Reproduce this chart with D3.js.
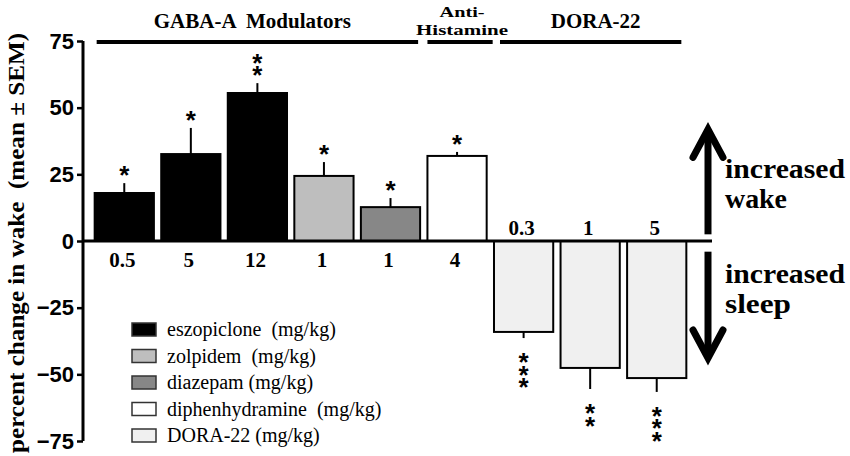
<!DOCTYPE html>
<html>
<head>
<meta charset="utf-8">
<script src="https://cdn.jsdelivr.net/npm/d3@7"></script>
<style>
  body { margin: 0; background: #fff; }
  svg { display: block; }
</style>
</head>
<body>
<div id="chart"></div>
<script>
"use strict";

// values
var doses = ["0.5", "5", "12", "1", "1", "4", "0.3", "1", "5"];
var drugs = ["eszopiclone", "eszopiclone", "eszopiclone", "zolpidem", "diazepam",
             "diphenhydramine", "DORA-22", "DORA-22", "DORA-22"];
var means = [18.0, 32.6, 55.5, 24.4, 12.7, 31.9, -34.1, -47.6, -51.4];
var sems  = [3.7, 9.8, 3.7, 5.2, 3.4, 1.5, 2.3, 7.9, 5.2];
var stars = [1, 1, 2, 1, 1, 1, 3, 2, 3];
var yTicks = [75, 50, 25, 0, -25, -50, -75];

var legendDrugs = ["eszopiclone", "zolpidem", "diazepam", "diphenhydramine", "DORA-22"];
var legendLabels = ["eszopiclone  (mg/kg)", "zolpidem  (mg/kg)", "diazepam (mg/kg)",
                    "diphenhydramine  (mg/kg)", "DORA-22 (mg/kg)"];

var groupNames = [["GABA-A  Modulators"], ["Anti-", "Histamine"], ["DORA-22"]];

var SERIF = "'Liberation Serif'";
var SANS = "'Liberation Sans'";
var W = 850, H = 456;

var svg = d3.select("#chart").append("svg")
  .attr("width", W)
  .attr("height", H);

var x = d3.scaleBand()
  .domain(d3.range(means.length))
  .range([91, 690])
  .paddingInner(0.11)
  .paddingOuter(0.055);
var bw = x.bandwidth();

var y = d3.scaleLinear()
  .domain([-75, 75])
  .range([441, 41]);

var colorSet = d3.scaleOrdinal()
  .domain(legendDrugs)
  .range(["#000000", "#bebebe", "#878787", "#ffffff", "#f0f0f0"]);

// y axis
var yAxis = d3.axisLeft(y).tickValues(yTicks).tickSize(6).tickFormat(d3.format("d"));
var yg = svg.append("g")
  .attr("transform", "translate(83,0)")
  .call(yAxis);
yg.select(".domain").attr("stroke-width", 3).attr("d", "M0," + y(75) + "V" + y(-75));
yg.selectAll(".tick line").attr("stroke-width", 2.5);
yg.selectAll(".tick text")
  .attr("x", -9)
  .style("font-family", SANS)
  .style("font-size", "22px")
  .style("font-weight", "bold")
  .attr("fill", "#000");

// y title
svg.append("text")
  .attr("transform", "translate(24," + 243 + ") rotate(-90)")
  .attr("text-anchor", "middle")
  .attr("textLength", 420)
  .attr("lengthAdjust", "spacingAndGlyphs")
  .style("font-family", SERIF)
  .style("font-size", "24px")
  .style("font-weight", "bold")
  .style("white-space", "pre")
  .text("percent change in wake  (mean \u00b1 SEM)");

// bars
svg.selectAll("rect.bar")
  .data(means)
  .enter().append("rect")
  .attr("class", "bar")
  .attr("x", function(d, i) { return x(i); })
  .attr("y", function(d) { return y(Math.max(d, 0)); })
  .attr("width", bw)
  .attr("height", function(d) { return Math.abs(y(d) - y(0)); })
  .attr("fill", function(d, i) { return colorSet(drugs[i]); })
  .attr("stroke", "#000")
  .attr("stroke-width", 2);

// error bars (one-sided)
function errEnd(d, i) { return y(d + (d < 0 ? -sems[i] : sems[i])); }
svg.selectAll("line.err")
  .data(means)
  .enter().append("line")
  .attr("class", "err")
  .attr("x1", function(d, i) { return x(i) + bw / 2; })
  .attr("x2", function(d, i) { return x(i) + bw / 2; })
  .attr("y1", function(d) { return y(d); })
  .attr("y2", errEnd)
  .attr("stroke", "#000")
  .attr("stroke-width", 2);

// significance stars: one vertical text per bar so stacked stars stay one label
means.forEach(function(d, i) {
  var end = errEnd(d, i);
  var n = stars[i];
  var firstCenter = d < 0 ? end + 17 : end - 15 - 12.5 * (n - 1);
  svg.append("text")
    .attr("x", x(i) + bw / 2)
    .attr("y", firstCenter - 8)
    .style("font-family", SANS)
    .style("font-size", "26px")
    .style("font-weight", "bold")
    .style("writing-mode", "vertical-rl")
    .style("text-orientation", "upright")
    .style("letter-spacing", "-17.5px")
    .text(d3.range(n).map(function() { return "*"; }).join(""));
});

// zero line
svg.append("line")
  .attr("x1", 83).attr("x2", 712)
  .attr("y1", y(0)).attr("y2", y(0))
  .attr("stroke", "#000")
  .attr("stroke-width", 3);

// dose labels
svg.selectAll("text.dose")
  .data(doses)
  .enter().append("text")
  .attr("class", "dose")
  .attr("x", function(d, i) { return x(i) + bw / 2 - 2; })
  .attr("y", function(d, i) { return means[i] < 0 ? y(0) - 6 : y(0) + 26; })
  .attr("text-anchor", "middle")
  .style("font-family", SERIF)
  .style("font-size", "21px")
  .style("font-weight", "bold")
  .text(function(d) { return d; });

// group headers
var lineStart = [x(0) + 2, x(5), x(6) + 6];
var lineEnd   = [x(4) + bw - 2, x(5) + bw + 6, x(8) + bw - 5];
groupNames.forEach(function(g, i) {
  svg.append("line")
    .attr("x1", lineStart[i]).attr("x2", lineEnd[i])
    .attr("y1", 42).attr("y2", 42)
    .attr("stroke", "#000")
    .attr("stroke-width", 4);
  var cx = (lineStart[i] + lineEnd[i]) / 2;
  if (g.length === 1) {
    svg.append("text")
      .attr("text-anchor", "middle")
      .attr("x", cx - (i === 0 ? 5 : -5)).attr("y", 28)
      .style("font-family", SERIF)
      .style("font-size", "21px")
      .style("font-weight", "bold")
      .style("white-space", "pre")
      .text(g[0]);
  } else {
    // two tight lines, stretched to the reference widths
    var widths = [45, 92];
    var base = [17, 34.5];
    g.forEach(function(line, k) {
      svg.append("text")
        .attr("text-anchor", "middle")
        .attr("x", cx + 2).attr("y", base[k])
        .attr("textLength", widths[k])
        .attr("lengthAdjust", "spacingAndGlyphs")
        .style("font-family", SERIF)
        .style("font-size", "15.5px")
        .style("font-weight", "bold")
        .text(line);
    });
  }
});

// arrows
var ax = 708;
function arrow(yBase, yTip) {
  var dir = yTip < yBase ? 1 : -1;
  svg.append("line")
    .attr("x1", ax).attr("x2", ax)
    .attr("y1", yBase).attr("y2", yTip + dir * 3)
    .attr("stroke", "#000")
    .attr("stroke-width", 7);
  svg.append("path")
    .attr("d", "M" + (ax - 15) + "," + (yTip + dir * 31) + "L" + ax + "," + (yTip + dir * 3) +
               "L" + (ax + 15) + "," + (yTip + dir * 31))
    .attr("fill", "none")
    .attr("stroke", "#000")
    .attr("stroke-width", 7)
    .attr("stroke-linecap", "round")
    .attr("stroke-linejoin", "miter");
}
arrow(y(2.5), y(43));
arrow(y(-4), y(-45));

var side = [["increased", "wake", 178, 208], ["increased", "sleep", 283, 313]];
var sideWidths = [120, 62, 120, 66];
side.forEach(function(s, i) {
  [s[0], s[1]].forEach(function(word, k) {
    svg.append("text")
      .attr("x", 725).attr("y", s[2 + k])
      .attr("textLength", sideWidths[i * 2 + k])
      .attr("lengthAdjust", "spacingAndGlyphs")
      .style("font-family", SERIF)
      .style("font-size", "27px")
      .style("font-weight", "bold")
      .text(word);
  });
});

// legend
legendDrugs.forEach(function(d, i) {
  var cy = 329.5 + 26.5 * i;
  svg.append("rect")
    .attr("x", 132).attr("y", cy - 6.5)
    .attr("width", 24).attr("height", 13)
    .attr("fill", colorSet(d))
    .attr("stroke", "#333")
    .attr("stroke-width", 1.5);
  svg.append("text")
    .attr("x", 167).attr("y", cy + 6.5)
    .style("font-family", SERIF)
    .style("font-size", "20px")
    .style("white-space", "pre")
    .text(legendLabels[i]);
});
</script>
</body>
</html>
